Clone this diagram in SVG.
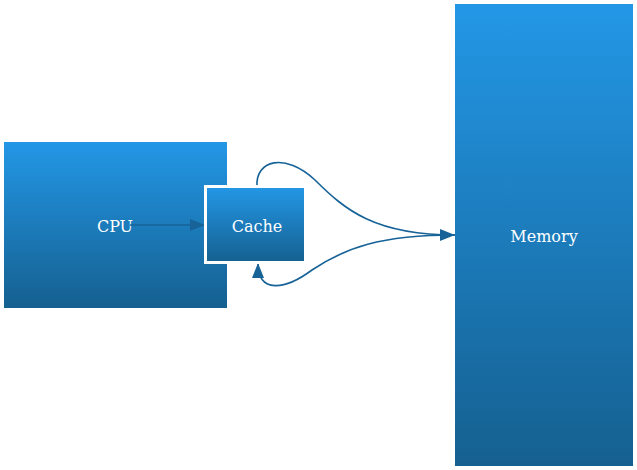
<svg xmlns="http://www.w3.org/2000/svg" width="637" height="470" viewBox="0 0 637 470">
<defs>
<linearGradient id="g" x1="0" y1="0" x2="0" y2="1">
<stop offset="0" stop-color="#2397e6"/>
<stop offset="1" stop-color="#156090"/>
</linearGradient>
<marker id="arr" markerUnits="userSpaceOnUse" markerWidth="16" markerHeight="12" viewBox="0 0 16 12" refX="15" refY="6" orient="auto">
<path d="M0,0 L15,6 L0,12 Z" fill="#176398"/>
</marker>
</defs>
<style>
.box{fill:url(#g);}
.lbl{font-family:"DejaVu Serif","Liberation Serif",serif;font-size:16px;fill:#ffffff;text-anchor:middle;dominant-baseline:central;}
.edge{fill:none;stroke:#176398;stroke-width:1.6;marker-end:url(#arr);}
</style>
<rect width="637" height="470" fill="#ffffff"/>
<g id="cpu">
<rect class="box" x="4" y="142" width="223" height="166"/>
<text class="lbl" x="115" y="226">CPU</text>
</g>
<g id="memory">
<rect class="box" x="455" y="4" width="178" height="462"/>
<text class="lbl" x="544" y="236">Memory</text>
</g>
<g id="connectors">
<path class="edge" d="M130,225 L205,225"/>
<path class="edge" d="M257,187 C255,160 285,152 315,180 C345,210 375,235 455,235"/>
<path class="edge" d="M455,235 C380,235 345,248 312,270 C285,290 258,294 258,263"/>
</g>
<g id="cache">
<rect class="box" x="205.5" y="186.5" width="100" height="76" stroke="#ffffff" stroke-width="3"/>
<text class="lbl" x="257" y="226">Cache</text>
</g>
</svg>
